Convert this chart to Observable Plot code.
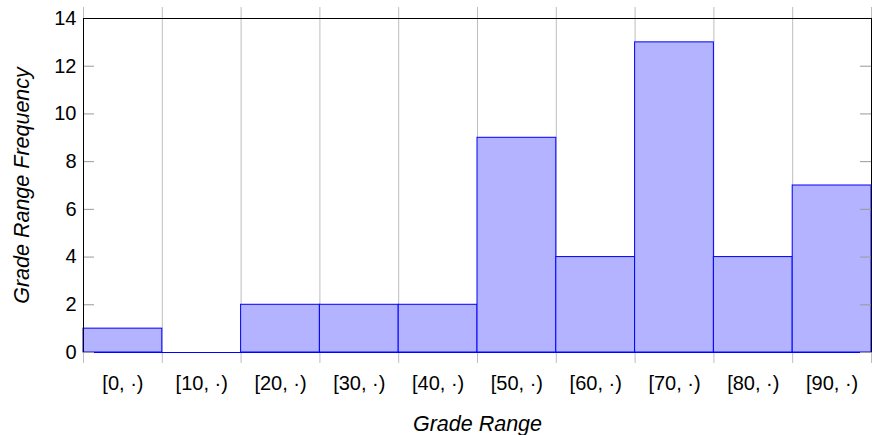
<!DOCTYPE html>
<html><head><meta charset="utf-8">
<script src="https://cdn.jsdelivr.net/npm/d3@7"></script>
<script src="https://cdn.jsdelivr.net/npm/@observablehq/plot@0.6"></script>
<style>
body{margin:0;background:#fff;}
g[aria-label="x-axis label"] text, g[aria-label="y-axis label"] text{font-style:italic;font-size:21.5px;}
</style></head><body><div id="chart"></div>
<script>
const binStarts = [0, 10, 20, 30, 40, 50, 60, 70, 80, 90];
const binWidth = 10;
const counts = [1, 0, 2, 2, 2, 9, 4, 13, 4, 7];
const tickLabels = ["[0, ·)", "[10, ·)", "[20, ·)", "[30, ·)", "[40, ·)", "[50, ·)", "[60, ·)", "[70, ·)", "[80, ·)", "[90, ·)"];
const yTicks = [0, 2, 4, 6, 8, 10, 12, 14];
const boundaries = [0, 10, 20, 30, 40, 50, 60, 70, 80, 90, 100];

const bars = binStarts.map((s, i) => ({x1: s, x2: s + binWidth, y: counts[i], label: tickLabels[i]}));
const centers = binStarts.map(s => s + binWidth / 2);

const chart = Plot.plot({
  width: 872, height: 435,
  marginLeft: 83, marginRight: 1, marginTop: 18, marginBottom: 83,
  style: {fontSize: "20px", fontFamily: "Liberation Sans, sans-serif", color: "#000"},
  x: {domain: [0, 100]},
  y: {domain: [0, 14]},
  marks: [
    Plot.ruleX(boundaries, {x: d => d, y1: -0.46, y2: 14.46, stroke: "#bdbdbd", strokeWidth: 1, clip: false}),
    Plot.rectY(bars.filter(d => d.y > 0), {x1: "x1", x2: "x2", y1: 0, y2: "y", fill: "#b3b3ff", stroke: "#0000ff", strokeWidth: 1}),
    Plot.ruleY([0], {x1: 0, x2: 100, stroke: "#0000ff"}),
    Plot.ruleY(yTicks, {x1: 0, x2: 1.4, stroke: "#9a9a9a"}),
    Plot.ruleY(yTicks, {x1: 98.6, x2: 100, stroke: "#9a9a9a"}),
    Plot.ruleX([0, 100], {y1: 0, y2: 14, stroke: "#000"}),
    Plot.ruleY([14], {x1: 0, x2: 100, stroke: "#000"}),
    Plot.axisX(centers, {tickFormat: d => tickLabels[binStarts.indexOf(d - binWidth / 2)],
      tickSize: 0, tickPadding: 23, fontSize: 20, fill: "#000",
      label: "Grade Range", labelArrow: "none", labelAnchor: "center", labelOffset: 78}),
    Plot.axisY(yTicks, {tickSize: 0, tickPadding: 7, fontSize: 20, fill: "#000",
      label: "Grade Range Frequency", labelArrow: "none", labelAnchor: "center", labelOffset: 70})
  ]
});
document.getElementById("chart").appendChild(chart);
</script></body></html>
